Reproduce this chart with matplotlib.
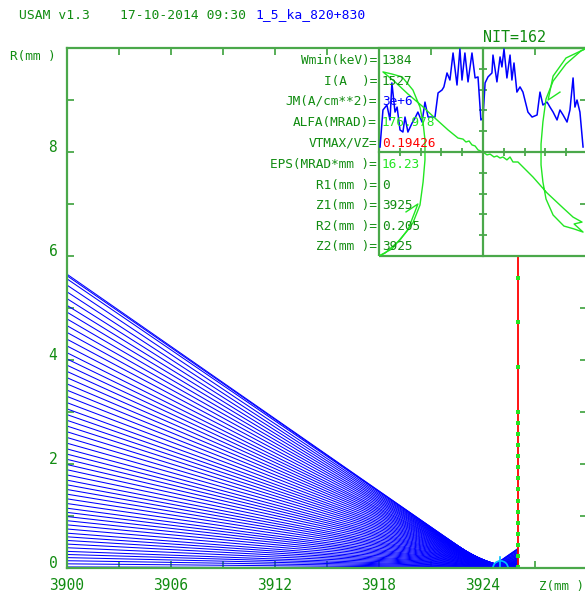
import numpy as np
import matplotlib
matplotlib.use("Agg")
import matplotlib.pyplot as plt
from matplotlib.patches import Rectangle

plt.rcParams['font.family'] = ['DejaVu Sans Mono']

# colours of the screen
DKGREEN = '#118c11'
AXGREEN = '#4aa84a'
LIME = '#22e622'
BLUE = '#0000ff'
RED = '#ff0000'
CYAN = '#00c0ff'

# rays: radius at z=3900 and z where they cross the axis
z_start = 3900
z_target = 3926
ray_r0 = [0.02, 0.08, 0.14, 0.20, 0.26, 0.32, 0.39, 0.46, 0.53, 0.60,
          0.67, 0.75, 0.83, 0.91, 0.99, 1.07, 1.15, 1.24, 1.33, 1.42,
          1.51, 1.60, 1.69, 1.79, 1.89, 1.99, 2.09, 2.19, 2.29, 2.40,
          2.51, 2.62, 2.73, 2.84, 2.95, 3.06, 3.18, 3.30, 3.42, 3.54,
          3.66, 3.78, 3.90, 4.02, 4.14, 4.27, 4.40, 4.53, 4.66, 4.79,
          4.92, 5.05, 5.18, 5.31, 5.44, 5.56, 5.62, 5.65]
ray_zc = [3926.39, 3926.37, 3926.35, 3926.33, 3926.31, 3926.29, 3926.26, 3926.24, 3926.21, 3926.19,
          3926.16, 3926.13, 3926.11, 3926.08, 3926.05, 3926.02, 3925.99, 3925.96, 3925.93, 3925.90,
          3925.87, 3925.83, 3925.80, 3925.77, 3925.73, 3925.70, 3925.66, 3925.62, 3925.59, 3925.55,
          3925.51, 3925.47, 3925.43, 3925.39, 3925.36, 3925.32, 3925.27, 3925.23, 3925.19, 3925.15,
          3925.10, 3925.06, 3925.02, 3924.98, 3924.93, 3924.89, 3924.84, 3924.80, 3924.75, 3924.70,
          3924.66, 3924.61, 3924.57, 3924.52, 3924.47, 3924.43, 3924.41, 3924.40]

# target plane marks
target_r = [0.02, 0.23, 0.44, 0.65, 0.87, 1.08, 1.29, 1.52, 1.73, 1.94,
            2.15, 2.37, 2.58, 2.79, 3.00, 3.87, 4.73, 5.58]
target_top = 6.0

# parameter panel
par_names = ['Wmin(keV)=', 'I(A  )=', 'JM(A/cm**2)=', 'ALFA(MRAD)=', 'VTMAX/VZ=',
             'EPS(MRAD*mm )=', 'R1(mm )=', 'Z1(mm )=', 'R2(mm )=', 'Z2(mm )=']
par_values = ['1384', '1527', '3e+6', '176.978', '0.19426',
              '16.23', '0', '3925', '0.205', '3925']
par_colors = [DKGREEN, DKGREEN, BLUE, LIME, RED, LIME, DKGREEN, DKGREEN, DKGREEN, DKGREEN]
par_rows = [0.942, 0.841, 0.745, 0.644, 0.543, 0.442, 0.341, 0.245, 0.144, 0.048]
R1, Z1, R2, Z2 = 0.0, 3925.0, 0.205, 3925.0

# inset: current profile (blue)
prof_u = [-4.95, -4.81, -4.62, -4.47, -4.38, -4.23, -4.13, -3.99, -3.85, -3.75,
          -3.61, -3.41, -3.27, -3.13, -2.93, -2.79, -2.64, -2.31, -2.16, -1.97,
          -1.88, -1.73, -1.59, -1.44, -1.25, -1.11, -1.01, -0.87, -0.72, -0.53,
          -0.38, -0.24, -0.10, 0.00, 0.10, 0.24, 0.43, 0.48, 0.67, 0.82,
          0.91, 1.01, 1.15, 1.30, 1.39, 1.49, 1.63, 1.78, 1.92, 2.16,
          2.36, 2.60, 2.74, 2.88, 3.08, 3.22, 3.37, 3.56, 3.70, 3.85,
          4.04, 4.18, 4.33, 4.42, 4.52, 4.66, 4.81]
prof_v = [0.24, 2.02, 2.26, 1.54, 3.32, 1.92, 2.16, 1.06, 0.96, 1.68,
          0.96, 1.39, 1.63, 1.92, 1.44, 2.40, 1.68, 1.68, 2.84, 2.98,
          3.13, 3.80, 3.46, 4.76, 3.22, 4.95, 3.46, 4.76, 3.37, 4.76,
          3.56, 3.61, 1.54, 1.63, 3.32, 3.61, 3.80, 4.66, 3.37, 4.57,
          4.09, 4.95, 3.56, 4.66, 3.46, 4.28, 2.88, 3.13, 2.88, 1.92,
          1.68, 1.78, 2.88, 2.26, 2.40, 2.16, 1.92, 1.54, 2.02, 1.78,
          1.44, 2.02, 3.56, 2.16, 2.50, 1.92, 0.24]

# inset: emittance figure (green)
em_u = [-5.00, -4.71, -3.99, -3.37, -3.03, -2.88, -2.79, -2.79, -2.88, -3.03,
        -3.37, -3.89, -4.38, -4.81, -4.23, -3.61, -2.93, -2.31, -1.68, -1.20,
        -0.96, -0.82, -0.67, -0.53, -0.38, -0.24, 0.00, 0.19, 0.34, 0.53,
        0.67, 0.82, 0.96, 1.15, 1.30, 1.44, 1.68, 2.40, 3.08, 3.85,
        4.33, 4.76, 4.38, 4.81, 4.38, 3.89, 3.37, 3.03, 2.88, 2.79,
        2.79, 2.88, 3.03, 3.37, 3.99, 4.71, 5.00]
em_v = [-5.00, -4.86, -4.23, -3.41, -2.55, -1.44, -0.38, 0.58, 1.39, 2.16,
        2.98, 3.61, 3.75, 3.85, 3.37, 2.79, 2.21, 1.63, 1.06, 0.67,
        0.62, 0.48, 0.53, 0.34, 0.29, 0.10, 0.00, -0.14, -0.10, -0.24,
        -0.19, -0.29, -0.24, -0.38, -0.24, -0.48, -0.48, -1.20, -1.97, -2.69,
        -3.13, -3.37, -3.46, -3.85, -3.70, -3.56, -3.03, -2.26, -1.44, -0.62,
        0.38, 1.44, 2.55, 3.41, 4.23, 4.86, 5.00]
spur_r_u = [5.00, 3.99, 3.37, 3.13, 3.70]
spur_r_v = [5.00, 4.52, 3.65, 2.50, 2.88]
spur_l_u = [-5.00, -4.38, -3.61, -3.13, -3.70]
spur_l_v = [-5.00, -4.66, -3.75, -2.50, -2.88]

fig = plt.figure(figsize=(5.85, 5.93), dpi=100)
ax = fig.add_axes([0.11453, 0.04216, 0.88889, 0.87690])
ax.set_xlim(3900, 3930)
ax.set_ylim(0, 10)

for r0, zc in zip(ray_r0, ray_zc):
    if zc < z_target:
        zs = [z_start, zc, z_target]
        rs = [r0, 0, r0 * (z_target - zc) / (zc - z_start)]
    else:
        zs = [z_start, z_target]
        rs = [r0, r0 * (zc - z_target) / (zc - z_start)]
    ax.plot(zs, rs, color=BLUE, lw=0.75)

ax.plot([z_target, z_target], [0, target_top], color=RED, lw=1.3)
ax.plot([z_target] * len(target_r), target_r, 's', ms=2.6, color=LIME, mew=0)
ax.plot([Z1], [R1], 'o', ms=11, mfc='none', mec=CYAN, mew=1.2)
ax.plot([Z1, Z2], [R1, R2], color=CYAN, lw=1.2)

for s in ax.spines.values():
    s.set_color(AXGREEN)
    s.set_linewidth(1.6)

xt = np.arange(3900, 3931, 3)
ax.set_xticks(xt)
ax.set_xticklabels([str(v) if (v - 3900) % 6 == 0 and v < 3930 else '' for v in xt])
yt = np.arange(0, 11)
ax.set_yticks(yt)
ax.set_yticklabels([str(v) if v % 2 == 0 and v < 10 else '' for v in yt])
ax.tick_params(direction='in', length=5, width=1.3, color=AXGREEN,
               labelcolor=DKGREEN, labelsize=10.5, top=True, right=True, pad=7)
for t in ax.get_yticklabels():
    t.set_va('baseline')

# inset window
ins = fig.add_axes([0.64786, 0.56830, 0.35556, 0.35076])
ins.set_xlim(-5, 5)
ins.set_ylim(-5, 5)
ins.patch.set_alpha(0)
ins.spines['left'].set_position('zero')
ins.spines['bottom'].set_position('zero')
ins.spines['top'].set_visible(False)
ins.spines['right'].set_visible(False)
for s in ['left', 'bottom']:
    ins.spines[s].set_color(AXGREEN)
    ins.spines[s].set_linewidth(1.6)
ins.set_xticks(np.arange(-4, 5))
ins.set_yticks(np.arange(-4, 5))
ins.set_xticklabels([])
ins.set_yticklabels([])
ins.tick_params(direction='inout', length=6, width=1.3, color=AXGREEN)
ins.add_patch(Rectangle((0, 0), 1, 1, transform=ins.transAxes, fill=False,
                        edgecolor=AXGREEN, lw=1.6, clip_on=False))

ins.plot(prof_u, prof_v, color=BLUE, lw=1.1)
ins.plot(em_u, em_v, color=LIME, lw=1.0)
ins.plot(spur_r_u, spur_r_v, color=LIME, lw=1.0)
ins.plot(spur_l_u, spur_l_v, color=LIME, lw=1.0)

for name, val, col, y in zip(par_names, par_values, par_colors, par_rows):
    ins.text(-0.01, y, name, transform=ins.transAxes, ha='right', va='center',
             color=DKGREEN, fontsize=9.2)
    ins.text(0.014, y, val, transform=ins.transAxes, ha='left', va='center',
             color=col, fontsize=9.2)

fig.text(0.0325, 0.9747, 'USAM v1.3', color=DKGREEN, fontsize=9.4, va='center')
fig.text(0.2051, 0.9747, '17-10-2014 09:30', color=DKGREEN, fontsize=9.4, va='center')
fig.text(0.4359, 0.9747, '1_5_ka_820+830', color=BLUE, fontsize=9.4, va='center')
fig.text(0.8256, 0.9376, 'NIT=162', color=DKGREEN, fontsize=10.8, va='center')
fig.text(0.0171, 0.9039, 'R(mm )', color=DKGREEN, fontsize=9.2, va='center')
fig.text(0.921, 0.0118, 'Z(mm )', color=DKGREEN, fontsize=9.0, va='center')

fig.savefig('out.png', dpi=100)
